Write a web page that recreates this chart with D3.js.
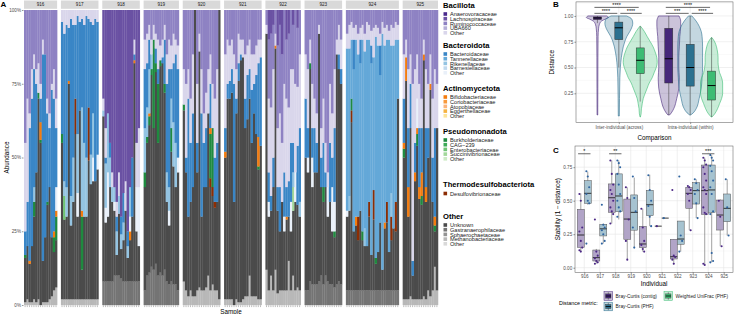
<!DOCTYPE html>
<html>
<head>
<meta charset="utf-8">
<script src="https://cdn.jsdelivr.net/npm/d3@7"></script>
<style>
  body { margin: 0; background: #fff; }
  svg { display: block; font-family: "Liberation Sans", Arial, sans-serif; }
</style>
</head>
<body>
<svg id="fig" width="734" height="314"></svg>
<script>
// ---------------- data ----------------
const individuals = ['916', '917', '918', '919', '920', '921', '922', '923', '924', '925'];

const phyla = ['Bacillota', 'Bacteroidota', 'Actinomycetota', 'Pseudomonadota', 'Thermodesulfobacteriota', 'Other'];
// family keys, in legend / stacking order (top of bar first)
const familyKeys = ['An', 'La', 'Ru', 'Ub', 'Bo', 'Bc', 'Ta', 'Ri', 'Bn', 'Bx', 'Bi', 'Co', 'At', 'Eg', 'Ao',
                    'Bu', 'Ca', 'En', 'Su', 'Po', 'De', 'Un', 'Ga', 'Sp', 'Me', 'Oo'];
const familyNames = ['Anaerovoracaceae', 'Lachnospiraceae', 'Ruminococcaceae', 'UBA660', 'Other',
                     'Bacteroidaceae', 'Tannerellaceae', 'Rikenellaceae', 'Barnesiellaceae', 'Other',
                     'Bifidobacteriaceae', 'Coriobacteriaceae', 'Atopobiaceae', 'Eggerthellaceae', 'Other',
                     'Burkholderiaceae', 'CAG\u2212239', 'Enterobacteriaceae', 'Succinivibrionaceae', 'Other',
                     'Desulfovibrionaceae',
                     'Unknown', 'Gastranaerophilaceae', 'Sphaerochaetaceae', 'Methanobacteriaceae', 'Other'];
const familyPhylum = [0, 0, 0, 0, 0, 1, 1, 1, 1, 1, 2, 2, 2, 2, 2, 3, 3, 3, 3, 3, 4, 5, 5, 5, 5, 5];
const familyColors = ['#4a2a8c', '#6a51a3', '#8e82c3', '#b4aed7', '#d9d6eb',
                      '#3a86c6', '#64a8d8', '#94c4e2', '#c0d9ee', '#e9f0f9',
                      '#f47c0e', '#f89a3c', '#fbb47a', '#f5b342', '#fde49a',
                      '#1f8a3f', '#3daa57', '#6fc474', '#a2d89a', '#cdebc6',
                      '#8c2d04',
                      '#4b4b4b', '#747474', '#939393', '#b8b8b8', '#d9d9d9'];

// relative abundance (%) per sample
const abund916 = [
  {Ru: 45, Bo: 30, Bc: 8, Bu: 1, Un: 15, Me: 1},
  {Ru: 30, Bo: 35, Bc: 15, Un: 18, Me: 2},
  {Ru: 35, Bo: 5, Bc: 45, Bi: 1, Un: 13, Me: 1},
  {Ru: 20, Bo: 10, Bc: 50, Un: 19, Me: 1},
  {Ru: 15, Bo: 5, Bc: 40, Ri: 5, Bu: 5, Un: 28, Me: 2},
  {Ru: 20, Bo: 5, Bc: 30, Un: 44, Me: 1},
  {Ru: 18, Bo: 10, Bu: 2, Un: 68, Me: 2},
  {Ru: 25, Bo: 5, Bc: 8, Bi: 6, Bu: 1, Un: 55},
  {Ru: 10, Bo: 5, Bc: 70, Un: 14, Me: 1},
  {Ru: 15, Bc: 62, Un: 22, Me: 1},
  {Ru: 30, Bo: 5, Bc: 30, Bu: 1, Un: 33, Me: 1},
  {Ru: 35, Bo: 5, Bc: 20, Un: 38, Me: 2},
  {Ru: 25, Bo: 2, Bc: 50, Un: 20, Me: 3},
  {Ru: 20, Bo: 10, Bc: 45, Bi: 2, Bu: 5, Un: 13, Me: 5},
  {Ru: 30, Bo: 10, Bx: 8, Bc: 20, Bi: 2, Bu: 8, Un: 16, Me: 6}
];
const abund917 = [
  {Bo: 4, Bc: 38, Bu: 3, Un: 53, Me: 2},
  {Bo: 8, Bc: 50, Ri: 5, En: 8, Un: 27, Me: 2},
  {Bo: 5, Bc: 55, Ri: 10, Un: 28, Me: 2},
  {Bo: 6, Bc: 18, Bi: 1, Un: 73, Me: 2},
  {Bo: 3, Bc: 60, Ri: 10, Un: 25, Me: 2},
  {Bo: 5, Bc: 45, Ri: 15, Un: 33, Me: 2},
  {Bo: 5, Bc: 25, De: 12, Un: 56, Me: 2},
  {Bo: 2, Bc: 40, Ri: 20, Bx: 8, Un: 28, Me: 2},
  {Bo: 4, Bc: 30, Un: 64, Me: 2},
  {Bo: 3, Bc: 30, Ri: 35, Bi: 2, Bu: 18, Un: 10, Me: 2},
  {Bo: 5, Bc: 40, Ri: 25, Un: 28, Me: 2},
  {Bo: 2, Bc: 48, Ri: 20, Un: 28, Me: 2},
  {Bo: 3, Bc: 30, De: 18, Un: 47, Me: 2},
  {Bo: 4, Bc: 45, Ri: 10, Un: 39, Me: 2},
  {Bo: 5, Bc: 30, Ri: 15, Bx: 8, Un: 40, Me: 2},
  {Bo: 3, Bc: 55, Un: 40, Me: 2},
  {Bo: 4, Bc: 45, Bx: 5, Un: 44, Me: 2}
];
const abund918 = [
  {La: 30, Bo: 4, Ri: 2, Un: 56, Ga: 8},
  {La: 40, Bo: 10, Bc: 2, Ri: 15, Bx: 5, Un: 20, Ga: 8},
  {La: 35, Ri: 20, Bx: 15, Un: 22, Ga: 8},
  {La: 45, Bc: 5, Ri: 10, Un: 32, Ga: 8},
  {La: 55, Bo: 5, Ri: 5, Un: 27, Ga: 8},
  {La: 60, Ri: 5, Bx: 3, Un: 22, Ga: 10},
  {La: 65, Bo: 5, Bc: 5, Ri: 8, Un: 7, Ga: 10},
  {La: 55, Bo: 8, Ri: 6, Un: 21, Ga: 10},
  {La: 70, Bc: 6, Ri: 5, Un: 10, Ga: 9},
  {La: 62, Bc: 10, Ri: 6, Un: 14, Ga: 8},
  {La: 58, Bo: 10, Un: 24, Ga: 8},
  {La: 75, Bc: 5, Ri: 4, Un: 8, Ga: 8},
  {La: 60, Ri: 10, Bx: 5, Bi: 3, Un: 14, Ga: 8},
  {La: 50, Bc: 20, Un: 22, Ga: 8},
  {La: 10, Bo: 5, Bc: 2, Bi: 1, Un: 74, Ga: 8},
  {La: 45, Bo: 15, Bx: 15, Un: 17, Ga: 8},
  {La: 40, Bo: 20, Bx: 20, Un: 12, Ga: 8}
];
const abund919 = [
  {Ru: 10, Bo: 10, Bc: 20, Ri: 15, Bu: 5, Un: 35, Ga: 5},
  {Ru: 8, Bo: 10, Bc: 15, Ri: 10, Bu: 2, Un: 45, Ga: 10},
  {Ru: 5, Bo: 5, Bc: 10, Ri: 15, Bi: 1, Bu: 3, Un: 50, Ga: 11},
  {Ru: 10, Bo: 5, Ri: 5, Bu: 2, Un: 65, Ga: 13},
  {Ru: 5, Bo: 5, Bu: 30, Un: 48, Ga: 12},
  {Ru: 8, Bo: 5, Bc: 5, Bu: 3, Un: 65, Ga: 14},
  {Ru: 10, Bo: 10, Bc: 5, Bu: 20, Un: 45, Ga: 10},
  {Ru: 12, Bo: 5, Bu: 2, Un: 70, Ga: 11},
  {Ru: 10, Bo: 6, Bc: 2, Un: 72, Ga: 10},
  {Ru: 5, Bo: 5, Bc: 15, Bu: 3, Un: 60, Ga: 12},
  {Ru: 15, Bo: 10, Bc: 30, Ri: 10, Un: 27, Ga: 8},
  {Ru: 10, Bo: 10, Bc: 40, Ri: 8, Bx: 5, Un: 20, Ga: 7},
  {Ru: 12, Bo: 8, Bc: 10, Ri: 10, Bu: 8, Un: 44, Ga: 8},
  {Ru: 8, Bo: 10, Bc: 20, Ri: 15, Un: 40, Ga: 7},
  {Ru: 10, Bo: 5, Bc: 30, Ri: 15, Un: 33, Ga: 7},
  {Ru: 12, Bo: 8, Bc: 30, Bx: 5, Un: 40, Ga: 5}
];
const abund920 = [
  {Ru: 20, Bo: 12, Bu: 2, Un: 58, Me: 8},
  {Ru: 25, Bo: 25, Bc: 5, Un: 40, Me: 5},
  {Ru: 20, Bo: 10, Bc: 40, Un: 27, Me: 3},
  {Ru: 30, Bo: 15, Bc: 20, Un: 30, Me: 5},
  {Ru: 15, Bo: 20, Bc: 25, Un: 37, Me: 3},
  {Un: 97, Me: 3},
  {Ru: 25, Bo: 20, Bc: 10, Un: 40, Me: 5},
  {Ru: 8, Bo: 6, Un: 80, Me: 6},
  {Ru: 20, Bo: 15, Bc: 35, Un: 25, Me: 5},
  {Ru: 35, Bo: 10, Bc: 15, Un: 35, Me: 5},
  {Ru: 28, Bo: 12, Bc: 20, Un: 34, Me: 6},
  {Ru: 20, Bo: 15, Un: 55, Me: 10},
  {Ru: 15, Bo: 10, Bc: 15, Bi: 2, Bu: 15, De: 3, Un: 35, Me: 5},
  {Ru: 25, Bo: 15, Bu: 20, De: 3, Un: 30, Me: 7},
  {Ru: 30, Bo: 20, Bc: 15, De: 2, Un: 28, Me: 5},
  {Ru: 20, Bo: 25, Bc: 20, Un: 30, Me: 5},
  {Un: 98, Me: 2}
];
const abund921 = [
  {Ru: 15, Bo: 25, Bc: 8, Bi: 2, Un: 48, Me: 2},
  {Ru: 10, Bo: 15, Bc: 5, Un: 68, Me: 2},
  {Ru: 12, Bo: 12, Bc: 6, Un: 68, Me: 2},
  {Ru: 10, Bo: 10, Bc: 8, Un: 70, Me: 2},
  {Ru: 15, Bo: 10, Bc: 40, Un: 35},
  {Ru: 20, Bo: 10, Bc: 5, Un: 63, Me: 2},
  {Ru: 8, Bo: 10, Bc: 6, Un: 75, Me: 1},
  {Ru: 10, Bo: 5, Bc: 2, Un: 82, Me: 1},
  {Ru: 10, Bo: 6, Un: 82, Me: 2},
  {Ru: 15, Bo: 15, Bc: 10, Un: 57, Me: 3},
  {Ru: 12, Bo: 10, Bc: 15, Un: 60, Me: 3},
  {Ru: 10, Bo: 10, Bc: 10, Un: 60, Me: 10},
  {Ru: 15, Bo: 12, Bc: 18, Un: 52, Me: 3},
  {Ru: 15, Bo: 10, Bc: 10, Un: 62, Me: 3},
  {Ru: 12, Bo: 10, Bc: 20, Un: 55, Me: 3},
  {Ru: 10, Bo: 8, Bc: 25, Bi: 10, Bu: 1, Un: 44, Me: 2},
  {Ru: 10, Bo: 6, Bc: 30, Un: 52, Me: 2}
];
const abund922 = [
  {Ru: 5, Bo: 3, Un: 80, Me: 12},
  {La: 10, Ru: 20, Bo: 25, Bc: 10, Bx: 5, Un: 25, Me: 5},
  {La: 8, Ru: 25, Bo: 30, Bc: 5, Un: 22, Me: 10},
  {La: 5, Ru: 15, Bo: 30, Bc: 10, Un: 35, Me: 5},
  {Ru: 8, Bo: 4, Bi: 1, Un: 75, Me: 12},
  {La: 12, Ru: 28, Bo: 20, Bc: 8, Un: 28, Me: 4},
  {La: 5, Ru: 30, Bo: 25, Bc: 15, Un: 20, Me: 5},
  {La: 15, Ru: 30, Bo: 20, Un: 30, Me: 5},
  {Ru: 25, Bo: 30, Bc: 15, Bx: 5, Un: 20, Me: 5},
  {La: 10, Ru: 20, Bo: 30, Bc: 10, Bi: 1, Un: 24, Me: 5},
  {La: 8, Ru: 25, Bo: 25, Bc: 12, Un: 15, Me: 15},
  {Ru: 20, Bo: 25, Bc: 20, Bx: 10, Un: 20, Me: 5},
  {La: 5, Ru: 15, Bo: 25, Bc: 10, Ri: 5, Su: 8, Un: 22, Me: 10},
  {Ru: 25, Bo: 30, Bx: 10, Un: 30, Me: 5},
  {La: 6, Ru: 20, Bo: 20, Bc: 20, Un: 28, Me: 6},
  {Ru: 15, Bo: 25, Bc: 25, Ri: 5, Un: 25, Me: 5}
];
const abund923 = [
  {Ru: 15, Bo: 15, Bc: 20, Un: 45, Ga: 5},
  {Ru: 20, Bo: 20, Bc: 10, Bx: 5, Un: 40, Ga: 5},
  {Ru: 10, Bo: 8, Bu: 2, Un: 72, Ga: 8},
  {Ru: 25, Bo: 15, Bc: 10, Bx: 10, Un: 33, Ga: 7},
  {Ru: 30, Bo: 10, Bc: 15, Un: 38, Ga: 7},
  {Ru: 35, Bo: 10, Bc: 10, Un: 38, Ga: 7},
  {Ru: 5, Bo: 3, Un: 84, Ga: 8},
  {Ru: 40, Bo: 10, Bc: 10, Un: 30, Ga: 10},
  {Ru: 30, Bo: 15, Bc: 15, Bu: 5, Un: 28, Ga: 7},
  {Ru: 45, Bo: 10, Bc: 5, Un: 30, Ga: 10},
  {Ru: 55, Bo: 5, Bx: 10, Un: 22, Ga: 8},
  {Ru: 25, Bo: 20, Bc: 20, Un: 28, Ga: 7},
  {Ru: 35, Bo: 15, Bc: 10, Bx: 15, Un: 18, Ga: 7},
  {Ru: 20, Bo: 20, Bc: 25, Bx: 10, Bu: 2, Un: 17, Ga: 6},
  {Ru: 10, Bo: 5, Un: 78, Ga: 7},
  {Ru: 5, Bo: 10, Bc: 5, Un: 72, Ga: 8},
  {Ru: 10, Bo: 10, Bc: 5, Un: 68, Ga: 7}
];
const abund924 = [
  {Ru: 8, Bo: 5, Ta: 55, Bx: 2, Un: 25, Ga: 5},
  {Ru: 5, Bo: 8, Ta: 50, Ri: 5, Un: 27, Ga: 5},
  {Ru: 4, Bo: 6, Ta: 20, Bu: 4, De: 4, Un: 57, Ga: 5},
  {Ru: 6, Bo: 4, Bc: 10, Ta: 55, Un: 20, Ga: 5},
  {Ru: 5, Bo: 5, Ta: 60, Bi: 3, Un: 22, Ga: 5},
  {Ru: 8, Bo: 7, Ta: 55, De: 8, Un: 17, Ga: 5},
  {Ru: 6, Bo: 4, Bc: 8, Ta: 50, Un: 27, Ga: 5},
  {Ru: 5, Bo: 5, Ta: 65, Bu: 3, Un: 17, Ga: 5},
  {Ru: 8, Bo: 6, Ta: 60, Ri: 6, Un: 15, Ga: 5},
  {Ru: 4, Bo: 6, Ta: 70, Un: 15, Ga: 5},
  {Ru: 5, Bo: 5, Ta: 55, De: 5, Un: 25, Ga: 5},
  {Ru: 7, Bo: 5, Bc: 6, Ta: 65, Un: 12, Ga: 5},
  {Ru: 6, Bo: 10, Ta: 45, De: 10, Un: 24, Ga: 5},
  {Ru: 5, Bo: 4, Ta: 75, Bu: 2, Un: 9, Ga: 5},
  {Ru: 6, Bo: 6, Ta: 70, Un: 13, Ga: 5},
  {Ru: 8, Bo: 4, Bc: 10, Ta: 50, Un: 23, Ga: 5},
  {Ru: 4, Bo: 4, Ta: 80, Un: 7, Ga: 5},
  {Ru: 6, Bo: 6, Ta: 60, Bi: 2, Un: 21, Ga: 5},
  {Ru: 5, Bo: 5, Ta: 55, De: 7, Un: 23, Ga: 5},
  {Ru: 7, Bo: 3, Ta: 72, Un: 13, Ga: 5},
  {Ru: 5, Bo: 7, Ta: 50, Ri: 8, De: 8, Un: 17, Ga: 5},
  {Ru: 6, Bo: 6, Ta: 62, Un: 21, Ga: 5},
  {Ru: 4, Bo: 6, Ta: 55, De: 10, Un: 20, Ga: 5},
  {Ru: 5, Bo: 5, Ta: 20, Un: 65, Ga: 5}
];
const abund925 = [
  {Ru: 15, Bo: 15, Bc: 15, Bi: 2, Bu: 3, Un: 48, Me: 2},
  {Ru: 10, Bo: 6, Bi: 8, Un: 74, Me: 2},
  {Ru: 20, Bo: 20, Bc: 20, Bi: 10, Un: 28, Me: 2},
  {Ru: 15, Bo: 10, Bc: 15, Un: 57, Me: 3},
  {Ru: 25, Bo: 60, Bc: 5, Un: 8, Me: 2},
  {Ru: 20, Bo: 25, Bc: 10, Bi: 3, Un: 40, Me: 2},
  {Ru: 15, Bo: 15, Bx: 10, Bi: 2, Bu: 4, Un: 52, Me: 2},
  {Ru: 25, Bo: 15, Bc: 20, Bi: 4, Un: 34, Me: 2},
  {Ru: 30, Bo: 10, Bc: 15, Bi: 8, Bu: 3, Un: 32, Me: 2},
  {Ru: 10, Bo: 5, Bi: 2, Un: 80, Me: 3},
  {Ru: 20, Bo: 20, Bc: 20, Bi: 5, Un: 33, Me: 2},
  {Ru: 25, Bo: 15, Bc: 10, Un: 45, Me: 5},
  {Ru: 15, Bo: 10, Bi: 2, Un: 70, Me: 3},
  {Ru: 30, Bo: 20, Bc: 15, Un: 30, Me: 5},
  {Ru: 20, Bo: 20, Bc: 30, Bi: 3, Bu: 2, Un: 12, Me: 13},
  {Ru: 25, Bo: 15, Un: 55, Me: 5}
];
const abund = {'916': abund916, '917': abund917, '918': abund918, '919': abund919, '920': abund920,
               '921': abund921, '922': abund922, '923': abund923, '924': abund924, '925': abund925};

// panel B
const comparisons = ['Inter-individual (across)', 'Intra-individual (within)'];
const metrics = ['Bray-Curtis (contig)', 'Bray-Curtis (PHF)', 'Weighted UniFrac (PHF)'];
const metricColors = ['#46277a', '#2c7190', '#3dbc74'];
// [distance, relative density]
const violinAcross = [
  [[0.04, 0.02], [0.3, 0.025], [0.6, 0.03], [0.8, 0.04], [0.88, 0.07], [0.92, 0.12], [0.95, 0.24], [0.97, 0.47], [0.985, 0.65], [1.0, 0.55]],
  [[0.03, 0.03], [0.2, 0.04], [0.4, 0.06], [0.5, 0.09], [0.6, 0.15], [0.65, 0.2], [0.7, 0.26], [0.75, 0.35], [0.8, 0.47], [0.85, 0.65], [0.9, 0.79], [0.93, 0.82], [0.97, 0.76], [1.0, 0.45]],
  [[0.02, 0.01], [0.05, 0.05], [0.1, 0.07], [0.15, 0.12], [0.2, 0.18], [0.25, 0.29], [0.3, 0.41], [0.35, 0.53], [0.4, 0.7], [0.45, 0.82], [0.5, 0.94], [0.55, 1.0], [0.6, 0.97], [0.65, 0.88], [0.7, 0.76], [0.75, 0.59], [0.8, 0.41], [0.85, 0.24], [0.9, 0.02]]
];
const violinWithin = [
  [[0.04, 0.05], [0.06, 0.15], [0.1, 0.29], [0.2, 0.47], [0.3, 0.59], [0.4, 0.62], [0.5, 0.59], [0.6, 0.59], [0.7, 0.62], [0.8, 0.65], [0.9, 0.7], [0.95, 0.7], [1.0, 0.6]],
  [[0.04, 0.03], [0.06, 0.18], [0.1, 0.35], [0.2, 0.53], [0.3, 0.65], [0.4, 0.7], [0.5, 0.73], [0.6, 0.73], [0.7, 0.73], [0.8, 0.7], [0.85, 0.65], [0.9, 0.53], [0.95, 0.35], [1.0, 0.1]],
  [[0.02, 0.02], [0.05, 0.18], [0.1, 0.35], [0.15, 0.47], [0.2, 0.59], [0.25, 0.65], [0.3, 0.65], [0.35, 0.65], [0.4, 0.59], [0.45, 0.47], [0.5, 0.41], [0.55, 0.38], [0.6, 0.38], [0.65, 0.35], [0.7, 0.29], [0.75, 0.18], [0.79, 0.02]]
];
// [min, q1, median, q3, max]
const boxAcross = [[0.93, 0.965, 0.98, 0.99, 1.0], [0.5, 0.77, 0.885, 0.94, 1.0], [0.17, 0.44, 0.57, 0.69, 0.9]];
const boxWithin = [[0.04, 0.35, 0.585, 0.88, 1.0], [0.04, 0.32, 0.5, 0.725, 1.0], [0.02, 0.185, 0.325, 0.465, 0.79]];
const sigB = [
  {comp: 0, from: 0, to: 2, y: 1.083, label: '****'},
  {comp: 0, from: 0, to: 1, y: 1.025, label: '****'},
  {comp: 0, from: 1, to: 2, y: 1.025, label: '****'},
  {comp: 1, from: 0, to: 2, y: 1.083, label: '****'},
  {comp: 1, from: 0, to: 1, y: 1.025, label: '***'},
  {comp: 1, from: 1, to: 2, y: 1.025, label: '****'}
];

// panel C: stability (1 - distance)
const boxContig = {
  '916': [0.12, 0.152, 0.244, 0.436, 0.555], '917': [0.03, 0.05, 0.075, 0.132, 0.14],
  '918': [0.33, 0.413, 0.522, 0.625, 0.8], '919': [0.06, 0.212, 0.363, 0.512, 0.6],
  '920': [0.12, 0.15, 0.177, 0.309, 0.44], '921': [0.31, 0.31, 0.31, 0.31, 0.31],
  '922': [0.025, 0.065, 0.082, 0.212, 0.212], '923': [0.28, 0.443, 0.555, 0.6, 0.61],
  '924': [0.02, 0.398, 0.575, 0.766, 0.82], '925': [0.16, 0.281, 0.393, 0.505, 0.51]
};
const boxPHF = {
  '916': [0.47, 0.48, 0.555, 0.65, 0.716], '917': [0.18, 0.237, 0.29, 0.324, 0.33],
  '918': [0.36, 0.418, 0.535, 0.7, 0.8], '919': [0.15, 0.28, 0.413, 0.543, 0.672],
  '920': [0.31, 0.388, 0.47, 0.577, 0.694], '921': [0.37, 0.37, 0.37, 0.37, 0.37],
  '922': [0.12, 0.175, 0.214, 0.348, 0.348], '923': [0.37, 0.475, 0.575, 0.635, 0.66],
  '924': [0.04, 0.413, 0.58, 0.766, 0.84], '925': [0.24, 0.343, 0.443, 0.55, 0.66]
};
const ptsContig = {
  '916': [0.55, 0.5, 0.3, 0.27, 0.2, 0.15, 0.13, 0.12], '917': [0.36, 0.12, 0.09, 0.07, 0.05, 0.04, 0.03],
  '918': [0.8, 0.7, 0.62, 0.58, 0.55, 0.5, 0.45, 0.42, 0.4, 0.33], '919': [0.6, 0.52, 0.36, 0.2, 0.06],
  '920': [0.44, 0.3, 0.2, 0.17, 0.14, 0.12], '921': [0.31],
  '922': [0.58, 0.09, 0.08, 0.06, 0.03], '923': [0.61, 0.6, 0.58, 0.55, 0.5, 0.28],
  '924': [0.82, 0.8, 0.77, 0.75, 0.7, 0.65, 0.6, 0.58, 0.55, 0.45, 0.41, 0.4, 0.03, 0.02], '925': [0.5, 0.38, 0.16]
};
const ptsPHF = {
  '916': [0.72, 0.68, 0.6, 0.55, 0.5, 0.48, 0.18], '917': [0.47, 0.32, 0.3, 0.28, 0.25, 0.2, 0.18],
  '918': [0.8, 0.78, 0.75, 0.7, 0.62, 0.55, 0.5, 0.45, 0.42, 0.38], '919': [0.68, 0.52, 0.42, 0.3, 0.15],
  '920': [0.69, 0.58, 0.5, 0.46, 0.38, 0.31], '921': [0.37],
  '922': [0.68, 0.24, 0.2, 0.12], '923': [0.66, 0.63, 0.58, 0.55, 0.48, 0.37],
  '924': [0.84, 0.82, 0.8, 0.76, 0.72, 0.65, 0.6, 0.55, 0.42, 0.4, 0.11, 0.05, 0.04], '925': [0.66, 0.45, 0.24]
};
const sigC = [{ind: '916', label: '*'}, {ind: '918', label: '**'}, {ind: '924', label: '***'}];
const sigCLevel = 0.85;

// ---------------- drawing ----------------
const svg = d3.select('#fig');
const FONT = '"Liberation Sans", Arial, sans-serif';
const tickGrey = '#4d4d4d';

function styleAxis(g, size) {
  g.attr('font-family', FONT).attr('font-size', size);
  g.select('.domain').remove();
  g.selectAll('.tick line').attr('stroke', '#333').attr('stroke-width', 0.5);
  g.selectAll('.tick text').attr('fill', tickGrey);
}

// ===== Panel A =====
const A = {left: 24, right: 438, top: 10, bottom: 305, gap: 3.8};
const colorOf = Object.fromEntries(familyKeys.map((k, i) => [k, familyColors[i]]));
const nTotal = d3.sum(individuals, id => abund[id].length);
const barW = (A.right - A.left - A.gap * (individuals.length - 1)) / nTotal;
const yA = d3.scaleLinear().domain([0, 1]).range([A.bottom, A.top]);
const stack = d3.stack()
  .keys(familyKeys.slice().reverse())
  .value((d, k) => d[k] || 0)
  .offset(d3.stackOffsetExpand);

const gA = svg.append('g');
let fx = A.left;
individuals.forEach(id => {
  const rows = abund[id];
  const w = rows.length * barW;
  const xb = d3.scaleBand().domain(d3.range(rows.length)).range([fx, fx + w]).padding(0);
  const gF = gA.append('g');

  stack(rows).forEach(layer => {
    const segs = layer.map((d, i) => ({i, y0: d[0], y1: d[1]})).filter(s => s.y1 > s.y0);
    gF.selectAll(null).data(segs).join('rect')
      .attr('x', s => xb(s.i))
      .attr('width', xb.bandwidth() + 0.25)
      .attr('y', s => yA(s.y1))
      .attr('height', s => yA(s.y0) - yA(s.y1) + 0.15)
      .attr('fill', colorOf[layer.key]);
  });

  // facet strip
  gA.append('rect').attr('x', fx).attr('y', 0.5).attr('width', w).attr('height', 8.3).attr('fill', '#d9d9d9');
  gA.append('text').attr('x', fx + w / 2).attr('y', 4.8)
    .attr('text-anchor', 'middle').attr('dominant-baseline', 'central')
    .attr('font-size', 4.6).attr('fill', '#1a1a1a').text(id);

  const ax = gA.append('g').attr('transform', `translate(0,${A.bottom + 0.3})`)
    .call(d3.axisBottom(xb).tickFormat('').tickSizeInner(1.8).tickSizeOuter(0));
  styleAxis(ax, 4.6);
  ax.selectAll('.tick line').attr('stroke', '#555').attr('stroke-width', 0.4);

  fx += w + A.gap;
});

const ayA = gA.append('g').attr('transform', `translate(${A.left - 0.5},0)`)
  .call(d3.axisLeft(yA).tickValues([0, 0.25, 0.5, 0.75, 1]).tickFormat(d3.format('.0%')).tickSize(1.5).tickPadding(1));
styleAxis(ayA, 4.6);

gA.append('text').attr('transform', `translate(6,${(A.top + A.bottom) / 2}) rotate(-90)`)
  .attr('text-anchor', 'middle').attr('dominant-baseline', 'central')
  .attr('font-size', 6.3).attr('fill', '#000').text('Abundance');
gA.append('text').attr('x', (A.left + A.right) / 2).attr('y', 311)
  .attr('text-anchor', 'middle').attr('dominant-baseline', 'central')
  .attr('font-size', 6.3).attr('fill', '#000').text('Sample');

// legend A
const legTitleY = [5, 45, 88, 131, 184.5, 216];
const legX = 443.5, legStep = 4.7;
phyla.forEach((p, pi) => {
  gA.append('text').attr('x', legX - 0.5).attr('y', legTitleY[pi])
    .attr('dominant-baseline', 'central').attr('font-size', 7.6).attr('font-weight', 'bold')
    .attr('fill', '#000').text(p);
  const idx = familyKeys.map((k, i) => i).filter(i => familyPhylum[i] === pi);
  idx.forEach((fi, j) => {
    const cy = legTitleY[pi] + 9 + j * legStep;
    gA.append('rect').attr('x', legX).attr('y', cy - 1.8).attr('width', 3.6).attr('height', 3.6)
      .attr('fill', familyColors[fi]);
    gA.append('text').attr('x', legX + 6.5).attr('y', cy + 0.1)
      .attr('dominant-baseline', 'central').attr('font-size', 5.6).attr('fill', '#222')
      .text(familyNames[fi]);
  });
});

gA.append('text').attr('x', 0.5).attr('y', 4).attr('dominant-baseline', 'central')
  .attr('font-size', 8).attr('font-weight', 'bold').text('A');

// ===== Panel B =====
const B = {left: 576, right: 733, top: 1.9, bottom: 122.5};
const gB = svg.append('g');
const yB = d3.scaleLinear().domain([-0.033, 1.136]).range([B.bottom, B.top]);
const xB = d3.scalePoint().domain(comparisons).range([B.left, B.right]).padding(0.6);
const dB = d3.scalePoint().domain(metrics).range([-0.3 * xB.step(), 0.3 * xB.step()]);
const wB = d3.scaleLinear().domain([0, 1]).range([0, 17]);

// grid
[0, 0.125, 0.375, 0.625, 0.875, 1.125].forEach(v => gB.append('line')
  .attr('x1', B.left).attr('x2', B.right).attr('y1', yB(v)).attr('y2', yB(v))
  .attr('stroke', '#f0f0f0').attr('stroke-width', 0.35));
[0.25, 0.5, 0.75, 1].forEach(v => gB.append('line')
  .attr('x1', B.left).attr('x2', B.right).attr('y1', yB(v)).attr('y2', yB(v))
  .attr('stroke', '#e6e6e6').attr('stroke-width', 0.6));
comparisons.forEach(c => gB.append('line')
  .attr('x1', xB(c)).attr('x2', xB(c)).attr('y1', B.top).attr('y2', B.bottom)
  .attr('stroke', '#e6e6e6').attr('stroke-width', 0.6));

const violinSets = [violinAcross, violinWithin];
const boxSets = [boxAcross, boxWithin];
const boxWB = 8;
comparisons.forEach((c, ci) => {
  metrics.forEach((m, mi) => {
    const cx = xB(c) + dB(m);
    const col = metricColors[mi];
    const area = d3.area()
      .x0(d => cx - wB(d[1])).x1(d => cx + wB(d[1])).y(d => yB(d[0]))
      .curve(d3.curveMonotoneY);
    gB.append('path').datum(violinSets[ci][mi]).attr('d', area)
      .attr('fill', col).attr('fill-opacity', 0.28)
      .attr('stroke', col).attr('stroke-width', 0.6);
  });
});
comparisons.forEach((c, ci) => {
  metrics.forEach((m, mi) => {
    const cx = xB(c) + dB(m);
    const s = boxSets[ci][mi];
    gB.append('line').attr('x1', cx).attr('x2', cx).attr('y1', yB(s[0])).attr('y2', yB(s[4]))
      .attr('stroke', '#333').attr('stroke-width', 0.5);
    gB.append('rect').attr('x', cx - boxWB / 2).attr('width', boxWB)
      .attr('y', yB(s[3])).attr('height', yB(s[1]) - yB(s[3]))
      .attr('fill', metricColors[mi]).attr('stroke', '#333').attr('stroke-width', 0.5);
    gB.append('line').attr('x1', cx - boxWB / 2).attr('x2', cx + boxWB / 2)
      .attr('y1', yB(s[2])).attr('y2', yB(s[2])).attr('stroke', '#000').attr('stroke-width', 1);
  });
});

// significance brackets
sigB.forEach(s => {
  const c = comparisons[s.comp];
  const x1 = xB(c) + dB(metrics[s.from]) - 3;
  const x2 = xB(c) + dB(metrics[s.to]) - (s.from === 1 ? -1.5 : 1.5);
  const xa = s.from === 1 ? xB(c) + dB(metrics[s.from]) + 1.5 : x1;
  const yy = yB(s.y);
  gB.append('line').attr('x1', xa).attr('x2', x2).attr('y1', yy).attr('y2', yy)
    .attr('stroke', '#000').attr('stroke-width', 0.6);
  gB.append('text').attr('x', (xa + x2) / 2).attr('y', yy - 0.3)
    .attr('text-anchor', 'middle').attr('font-size', 5.4).attr('fill', '#000').text(s.label);
});

gB.append('rect').attr('x', B.left).attr('y', B.top).attr('width', B.right - B.left)
  .attr('height', B.bottom - B.top).attr('fill', 'none').attr('stroke', '#555').attr('stroke-width', 0.5);

const ayB = gB.append('g').attr('transform', `translate(${B.left},0)`)
  .call(d3.axisLeft(yB).tickValues([0.25, 0.5, 0.75, 1]).tickFormat(d3.format('.2f')).tickSize(1.6).tickPadding(1.2));
styleAxis(ayB, 4.6);
const axB = gB.append('g').attr('transform', `translate(0,${B.bottom})`)
  .call(d3.axisBottom(xB).tickSize(1.6).tickPadding(1.2));
styleAxis(axB, 4.6);

gB.append('text').attr('transform', `translate(551,${(B.top + B.bottom) / 2}) rotate(-90)`)
  .attr('text-anchor', 'middle').attr('dominant-baseline', 'central').attr('font-size', 6.3).text('Distance');
gB.append('text').attr('x', (B.left + B.right) / 2).attr('y', 137)
  .attr('text-anchor', 'middle').attr('dominant-baseline', 'central').attr('font-size', 6.3).text('Comparison');
gB.append('text').attr('x', 553).attr('y', 4).attr('dominant-baseline', 'central')
  .attr('font-size', 8).attr('font-weight', 'bold').text('B');

// ===== Panel C =====
const C = {left: 575, right: 733, top: 146, bottom: 272.4};
const gC = svg.append('g');
const yC = d3.scaleLinear().domain([-0.035, 0.908]).range([C.bottom, C.top]);
const xC = d3.scalePoint().domain(individuals).range([C.left, C.right]).padding(0.6);
const dC = d3.scaleBand().domain(['contig', 'phf']).range([-0.45 * xC.step(), 0.45 * xC.step()]);
const cColors = {contig: metricColors[0], phf: metricColors[1]};
const ptColors = {contig: '#4b2785', phf: '#2f64a0'};

[0.125, 0.375, 0.625, 0.875].forEach(v => gC.append('line')
  .attr('x1', C.left).attr('x2', C.right).attr('y1', yC(v)).attr('y2', yC(v))
  .attr('stroke', '#f0f0f0').attr('stroke-width', 0.35));
[0, 0.25, 0.5, 0.75].forEach(v => gC.append('line')
  .attr('x1', C.left).attr('x2', C.right).attr('y1', yC(v)).attr('y2', yC(v))
  .attr('stroke', '#e6e6e6').attr('stroke-width', 0.6));
individuals.forEach(id => gC.append('line')
  .attr('x1', xC(id)).attr('x2', xC(id)).attr('y1', C.top).attr('y2', C.bottom)
  .attr('stroke', '#e6e6e6').attr('stroke-width', 0.6));

const boxC = {contig: boxContig, phf: boxPHF};
const ptsC = {contig: ptsContig, phf: ptsPHF};
const bw = dC.bandwidth();
individuals.forEach(id => {
  ['contig', 'phf'].forEach(k => {
    const x0 = xC(id) + dC(k);
    const cx = x0 + bw / 2;
    const s = boxC[k][id];
    gC.append('line').attr('x1', cx).attr('x2', cx).attr('y1', yC(s[0])).attr('y2', yC(s[4]))
      .attr('stroke', '#444').attr('stroke-width', 0.5);
    if (s[3] > s[1]) {
      gC.append('rect').attr('x', x0).attr('width', bw)
        .attr('y', yC(s[3])).attr('height', yC(s[1]) - yC(s[3]))
        .attr('fill', d3.interpolateRgb('#ffffff', cColors[k])(0.42))
        .attr('stroke', '#555').attr('stroke-width', 0.5);
    }
    gC.append('line').attr('x1', x0).attr('x2', x0 + bw).attr('y1', yC(s[2])).attr('y2', yC(s[2]))
      .attr('stroke', '#222').attr('stroke-width', 0.9);
  });
});
individuals.forEach(id => {
  ['contig', 'phf'].forEach(k => {
    const cx = xC(id) + dC(k) + bw / 2;
    gC.selectAll(null).data(ptsC[k][id]).join('circle')
      .attr('cx', (v, i) => cx + ((i % 3) - 1) * 1.4)
      .attr('cy', v => yC(v))
      .attr('r', 1.05)
      .attr('fill', ptColors[k]);
  });
});

sigC.forEach(s => {
  const yy = yC(sigCLevel);
  const x1 = xC(s.ind) - 0.4 * xC.step(), x2 = xC(s.ind) + 0.4 * xC.step();
  gC.append('line').attr('x1', x1).attr('x2', x2).attr('y1', yy).attr('y2', yy)
    .attr('stroke', '#000').attr('stroke-width', 0.6);
  gC.append('text').attr('x', (x1 + x2) / 2).attr('y', yy - 0.3)
    .attr('text-anchor', 'middle').attr('font-size', 5.4).text(s.label);
});

gC.append('rect').attr('x', C.left).attr('y', C.top).attr('width', C.right - C.left)
  .attr('height', C.bottom - C.top).attr('fill', 'none').attr('stroke', '#555').attr('stroke-width', 0.5);

const ayC = gC.append('g').attr('transform', `translate(${C.left},0)`)
  .call(d3.axisLeft(yC).tickValues([0, 0.25, 0.5, 0.75]).tickFormat(d3.format('.2f')).tickSize(1.6).tickPadding(1.2));
styleAxis(ayC, 4.6);
const axC = gC.append('g').attr('transform', `translate(0,${C.bottom})`)
  .call(d3.axisBottom(xC).tickSize(1.6).tickPadding(1.2));
styleAxis(axC, 4.6);

gC.append('text').attr('transform', `translate(557.5,${(C.top + C.bottom) / 2}) rotate(-90)`)
  .attr('text-anchor', 'middle').attr('dominant-baseline', 'central').attr('font-size', 6.3)
  .text('Stability (1 \u2212 distance)');
gC.append('text').attr('x', (C.left + C.right) / 2).attr('y', 283.5)
  .attr('text-anchor', 'middle').attr('dominant-baseline', 'central').attr('font-size', 6.3).text('Individual');
gC.append('text').attr('x', 553).attr('y', 150).attr('dominant-baseline', 'central')
  .attr('font-size', 8).attr('font-weight', 'bold').text('C');

// legend C
const legC = [
  {mi: 0, x: 604, y: 291.7},
  {mi: 2, x: 664, y: 291.7},
  {mi: 1, x: 604, y: 302.2}
];
gC.append('text').attr('x', 559).attr('y', 303).attr('dominant-baseline', 'central')
  .attr('font-size', 5.4).text('Distance metric:');
legC.forEach(l => {
  const col = metricColors[l.mi];
  const kw = 8.6, kh = 8.6;
  gC.append('rect').attr('x', l.x).attr('y', l.y).attr('width', kw).attr('height', kh)
    .attr('fill', col).attr('fill-opacity', 0.3).attr('stroke', col).attr('stroke-width', 0.5);
  const cx = l.x + kw / 2;
  gC.append('line').attr('x1', cx).attr('x2', cx).attr('y1', l.y + 0.6).attr('y2', l.y + kh - 0.6)
    .attr('stroke', '#333').attr('stroke-width', 0.5);
  gC.append('rect').attr('x', l.x + 1.6).attr('y', l.y + 2.2).attr('width', kw - 3.2).attr('height', kh - 4.4)
    .attr('fill', col).attr('stroke', '#333').attr('stroke-width', 0.4);
  gC.append('line').attr('x1', l.x + 1.6).attr('x2', l.x + kw - 1.6).attr('y1', l.y + kh / 2).attr('y2', l.y + kh / 2)
    .attr('stroke', '#000').attr('stroke-width', 0.8);
  gC.append('text').attr('x', l.x + kw + 3).attr('y', l.y + kh / 2)
    .attr('dominant-baseline', 'central').attr('font-size', 4.8).attr('fill', '#222').text(metrics[l.mi]);
});
</script>
</body>
</html>
